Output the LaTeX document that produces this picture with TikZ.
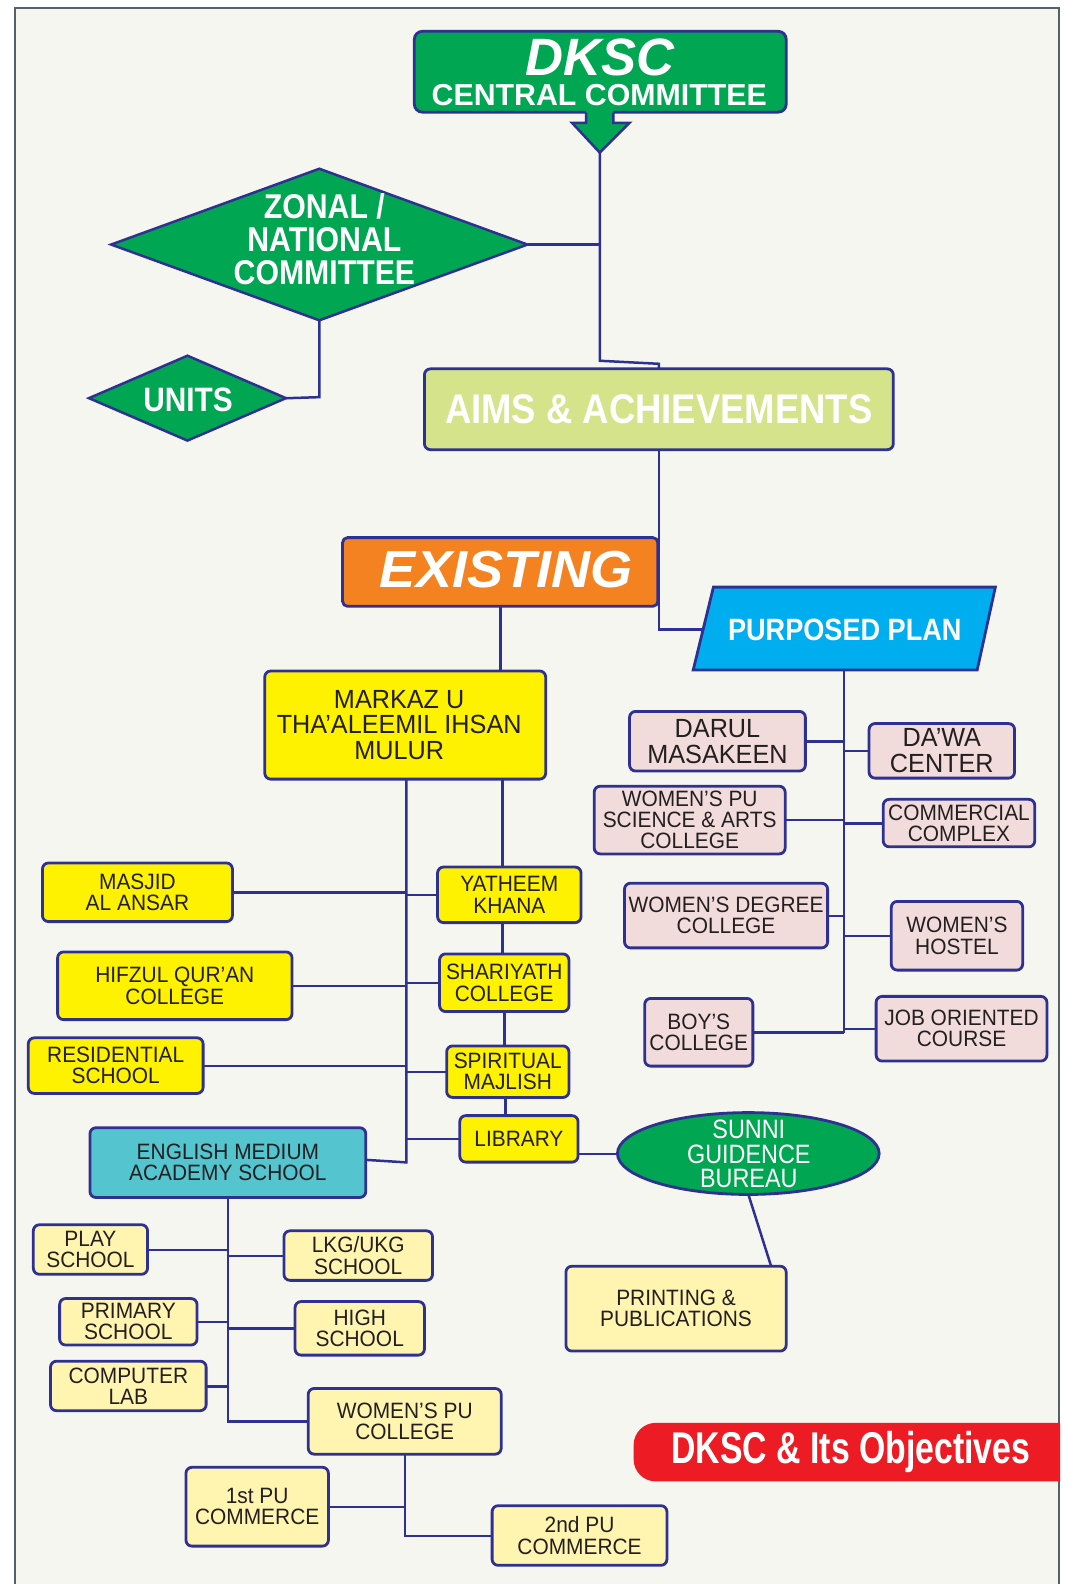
\documentclass[tikz,border=0pt]{standalone}
\usepackage{fontspec}
\setmainfont{Liberation Sans}
\newfontfamily\cf[FakeStretch=0.88]{Liberation Sans}
\newfontfamily\cfs[FakeStretch=0.94]{Liberation Sans}
\newfontfamily\cfm[FakeStretch=0.96]{Liberation Sans}
\newfontfamily\cfw{Liberation Sans}
\newfontfamily\cfx[FakeStretch=1.04]{Liberation Sans}
\newfontfamily\cfn[FakeStretch=0.76]{Liberation Sans}
\usetikzlibrary{shapes.geometric}
\definecolor{navy}{HTML}{2E3192}
\definecolor{dgreen}{HTML}{00A651}
\definecolor{yel}{HTML}{FFF200}
\definecolor{lyel}{HTML}{FFF5B1}
\definecolor{pinkb}{HTML}{F2DCDB}
\definecolor{aimsc}{HTML}{D5E38B}
\definecolor{orng}{HTML}{F58220}
\definecolor{cyanb}{HTML}{00AEEF}
\definecolor{teal}{HTML}{54C4CF}
\definecolor{bred}{HTML}{ED1C24}
\definecolor{bg}{HTML}{F6F6F0}
\definecolor{framec}{HTML}{56606A}
\definecolor{txt}{HTML}{231F20}
\tikzset{
  ln/.style={draw=navy, line width=2.5pt},
  bx/.style={draw=navy, line width=2.8pt, rounded corners=6pt, inner sep=0pt, outer sep=0pt, align=center, text=txt},
  wh/.style 2 args={minimum width=#1, minimum height=#2},
  yb/.style={bx, fill=yel},
  lyb/.style={bx, fill=lyel},
  pb/.style={bx, fill=pinkb},
  sm/.style={font={\cfs\fontsize{22}{21}\selectfont}},
  big/.style={font={\cfm\fontsize{26}{26}\selectfont}},
  wt/.style={text=white, inner sep=0pt, align=center},
}
\begin{document}
\begin{tikzpicture}[x=1pt,y=-1pt,scale=1.0105,transform shape]
\useasboundingbox (0,0) rectangle (1064.8,1567.5);
% frame
\fill[bg] (15,8) rectangle (1048,1575);
\draw[framec, line width=2pt] (15,1575) -- (15,8) -- (1048,8) -- (1048,1575);

% ---------- top ----------
\node[bx, fill=dgreen, rounded corners=8pt, wh={368}{80}] (cc) at (594,71) {};
\fill[dgreen] (580,105) -- (580,121.5) -- (566,121.5) -- (593.5,151) -- (623,121.5) -- (607,121.5) -- (607,105) -- cycle;
\draw[navy, line width=2.5pt, line join=miter] (580,111.5) -- (580,121.5) -- (566,121.5) -- (593.5,151) -- (623,121.5) -- (607,121.5) -- (607,111.5);
\node[wt, font={\cfw\bfseries\itshape\fontsize{52}{52}\selectfont}] (dksc) at (594,57) {DKSC};
\node[wt, font={\cfw\bfseries\fontsize{30}{30}\selectfont}] (central) at (593,94.5) {CENTRAL COMMITTEE};
\coordinate (tip) at (593.5,151);

\node[diamond, draw=navy, line width=2.5pt, fill=dgreen, inner sep=0pt, outer sep=0pt, wh={412}{150}] (zonal) at (316,242) {};
\node[wt, font={\cf\bfseries\fontsize{34}{32.5}\selectfont}] (zonalt) at (321,237) {ZONAL /\\NATIONAL\\COMMITTEE};
\node[diamond, draw=navy, line width=2.5pt, fill=dgreen, inner sep=0pt, outer sep=0pt, wh={195}{84}] (units) at (185.5,394) {};
\node[wt, font={\cf\bfseries\fontsize{33.5}{33.5}\selectfont}] (unitst) at (186,396) {UNITS};

\node[bx, fill=aimsc, wh={464}{80}, text=white, font={\cf\bfseries\fontsize{41}{41}\selectfont}] (aims) at (652,405) {AIMS \& ACHIEVEMENTS};

\draw[ln] (tip) -- (593.5,357) -- (652,360) -- (aims.north);
\draw[ln] (zonal.east) -- (zonal.east -| tip);
\draw[ln] (zonal.south) -- (zonal.south |- 0,393) -- (units.east);

% ---------- existing / plan ----------
\node[bx, fill=orng, rounded corners=5pt, wh={312}{68}] (exist) at (495,566) {};
\node[wt, font={\cfx\bfseries\itshape\fontsize{51.5}{51.5}\selectfont}] (existt) at (501,564) {EXISTING};
\draw[navy, line width=2.8pt, fill=cyanb] (706,581) -- (985,581) -- (967,663) -- (686,663) -- cycle;
\node[wt, font={\cf\bfseries\fontsize{30.5}{30.5}\selectfont}] (plan) at (836,623) {PURPOSED PLAN};
\coordinate (pW) at (696,623);
\coordinate (pS) at (835,663);
\coordinate (pB) at (835,1022);
\draw[ln] (aims.south) -- (aims.south |- pW) -- (pW);

% ---------- existing branch ----------
\node[yb, wh={278}{107}] (markaz) at (401,717.5) {};
\node[inner sep=0pt, align=center, text=txt, font={\cfm\fontsize{26}{25.7}\selectfont}] (markazt) at (395,717.5) {MARKAZ U\\THA’ALEEMIL IHSAN\\MULUR};
\draw[ln] (exist.south) -- (exist.south |- markaz.north);
\coordinate (ls) at (402,771);
\coordinate (rs) at (497,771);
\coordinate (lsb) at (402,1150);

\node[yb, sm, wh={188}{58}] (masjid) at (136,883) {MASJID\\AL ANSAR};
\node[yb, sm, wh={142}{55}] (yath) at (504,885.5) {YATHEEM\\KHANA};
\node[yb, sm, wh={232}{67}] (hifz) at (173,975.5) {HIFZUL QUR’AN\\COLLEGE};
\node[yb, sm, wh={128}{57}] (shar) at (499,972.5) {SHARIYATH\\COLLEGE};
\node[yb, sm, wh={173}{55}] (resid) at (114.5,1054.5) {RESIDENTIAL\\SCHOOL};
\node[yb, sm, wh={121}{51}] (spir) at (502.5,1060.5) {SPIRITUAL\\MAJLISH};
\node[yb, sm, wh={117}{46}] (lib) at (513.5,1127) {LIBRARY};
\node[bx, fill=teal, sm, wh={273}{69}] (ema) at (225.5,1150.5) {ENGLISH MEDIUM\\ACADEMY SCHOOL};
\node[ellipse, draw=navy, line width=2.8pt, fill=dgreen, inner sep=0pt, outer sep=0pt, wh={259}{81}] (sgb) at (740.5,1141.5) {};
\node[wt, font={\cf\fontsize{26.3}{24}\selectfont}] (sgbt) at (741,1142) {SUNNI\\GUIDENCE\\BUREAU};
\node[lyb, sm, wh={218}{84}] (print) at (669,1295) {PRINTING \&\\PUBLICATIONS};

\draw[ln] (ls) -- (lsb) -- ([yshift=3pt]ema.east);
\draw[ln] (rs) -- (rs |- yath.north);
\draw[ln] (yath.south -| rs) -- (shar.north -| rs);
\draw[ln] (shar.south -| 499,0) -- (spir.north -| 499,0);
\draw[ln] (spir.south -| 500,0) -- (lib.north -| 500,0);
\draw[ln] (masjid.east) -- (masjid.east -| ls);
\draw[ln] (ls |- yath.west) -- (yath.west);
\draw[ln] (hifz.east) -- (hifz.east -| ls);
\draw[ln] (ls |- shar.west) -- (shar.west);
\draw[ln] (resid.east) -- (resid.east -| ls);
\draw[ln] (ls |- spir.west) -- (spir.west);
\draw[ln] (ls |- lib.west) -- (lib.west);
\draw[ln] (lib.east |- sgb.west) -- (sgb.west);
\draw[ln] (sgb.south) -- ([xshift=94pt]print.north);

% ---------- english medium branch ----------
\node[lyb, sm, wh={113}{49}] (play) at (89.5,1236.5) {PLAY\\SCHOOL};
\node[lyb, sm, wh={147}{49}] (lkg) at (354.5,1242.5) {LKG/UKG\\SCHOOL};
\node[lyb, sm, wh={136}{46}] (prim) at (127,1308) {PRIMARY\\SCHOOL};
\node[lyb, sm, wh={128}{53}] (high) at (356,1314.5) {HIGH\\SCHOOL};
\node[lyb, sm, wh={154}{49}] (comp) at (127,1371.5) {COMPUTER\\LAB};
\node[lyb, sm, wh={191}{65}] (wpu) at (400.5,1406.5) {WOMEN’S PU\\COLLEGE};
\node[lyb, sm, wh={141}{78}] (pu1) at (254.5,1491) {1st PU\\COMMERCE};
\node[lyb, sm, wh={173}{59}] (pu2) at (573.5,1519.5) {2nd PU\\COMMERCE};

\draw[ln] (ema.south) -- (ema.south |- wpu.west) -- (wpu.west);
\draw[ln] (play.east) -- (play.east -| ema.south);
\draw[ln] (ema.south |- lkg.west) -- (lkg.west);
\draw[ln] (prim.east) -- (prim.east -| ema.south);
\draw[ln] (ema.south |- high.west) -- (high.west);
\draw[ln] (comp.east) -- (comp.east -| ema.south);
\draw[ln] (wpu.south) -- (wpu.south |- pu2.west) -- (pu2.west);
\draw[ln] (pu1.east) -- (pu1.east -| wpu.south);

% ---------- purposed plan branch ----------
\node[pb, big, wh={174}{59}] (darul) at (710,733.5) {DARUL\\MASAKEEN};
\node[pb, big, wh={144}{54}] (dawa) at (932,743) {DA’WA\\CENTER};
\node[pb, sm, wh={189}{67}] (wsci) at (682.5,811.5) {WOMEN’S PU\\SCIENCE \& ARTS\\COLLEGE};
\node[pb, sm, wh={150}{47}] (comm) at (949,814.5) {COMMERCIAL\\COMPLEX};
\node[pb, sm, wh={201}{64}] (wdeg) at (718.5,906) {WOMEN’S DEGREE\\COLLEGE};
\node[pb, sm, wh={130}{68}] (host) at (947,926) {WOMEN’S\\HOSTEL};
\node[pb, sm, wh={107}{67}] (boys) at (691.5,1021.5) {BOY’S\\COLLEGE};
\node[pb, sm, wh={169}{64}] (job) at (951.5,1018) {JOB ORIENTED\\COURSE};

\draw[ln] (pS) -- (pB);
\draw[ln] (darul.east) -- (darul.east -| pS);
\draw[ln] (pS |- dawa.west) -- (dawa.west);
\draw[ln] (wsci.east) -- (wsci.east -| pS);
\draw[ln] (pS |- comm.west) -- (comm.west);
\draw[ln] (wdeg.east) -- (wdeg.east -| pS);
\draw[ln] (pS |- host.west) -- (host.west);
\draw[ln] (boys.east) -- (boys.east -| pS);
\draw[ln] (pS |- job.west) -- (job.west);

% ---------- banner ----------
\fill[bred] (1049,1408) -- (649,1408) arc[start angle=270, end angle=180, radius=22] -- (627,1444) arc[start angle=180, end angle=90, radius=22] -- (1049,1466) -- cycle;
\node[wt, anchor=base, font={\cfn\bfseries\fontsize{44}{44}\selectfont}] (banner) at (842,1448) {DKSC \& Its Objectives};
\end{tikzpicture}
\end{document}
